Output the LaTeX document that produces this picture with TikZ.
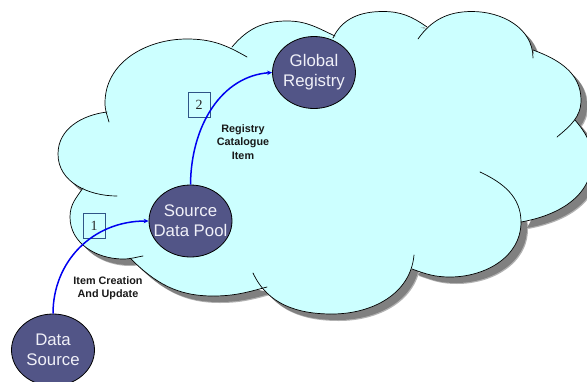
\documentclass[tikz,border=0pt]{standalone}
\usepackage{fontspec}
\setmainfont{Liberation Serif}
\setsansfont{Liberation Sans}
\usetikzlibrary{arrows.meta,shapes.geometric}
\definecolor{cloudfill}{HTML}{CCFFFF}
\definecolor{poolfill}{HTML}{525587}
\definecolor{poolink}{HTML}{F0F0F8}
\definecolor{flowblue}{HTML}{0000F0}
\definecolor{boxline}{HTML}{2F5587}
\tikzset{
  pool/.style={ellipse,draw=black,line width=.8pt,fill=poolfill,text=poolink,
    minimum width=83pt,minimum height=72pt,inner sep=-8pt,align=center,
    font=\sffamily\fontsize{16.8}{20}\selectfont},
  flow/.style={draw=flowblue,line width=1.5pt,-{Stealth[length=5pt,width=4.5pt]}},
  stepbox/.style={rectangle,draw=boxline,line width=.8pt,minimum width=22pt,minimum height=25pt,
    inner sep=0pt,font=\rmfamily\fontsize{14}{14}\selectfont,text=black!85},
  flowlabel/.style={align=center,inner sep=0pt,font=\sffamily\bfseries\fontsize{10.8}{13.3}\selectfont,text=black!90},
  outline/.style={draw=black,line width=.7pt,line cap=round}
}
\newcommand\alllobes[2]{%
  \path[#1] (109,122) to[out=105,in=270] (105,103) to[out=90,in=180] (187,39) to[out=0,in=150] (247,57) #2;
  \path[#1] (232,47) to[out=50,in=180] (287,21) to[out=0,in=155] (335,36) #2;
  \path[#1] (333,38) to[out=65,in=180] (383,11.5) to[out=0,in=145] (427,27) #2;
  \path[#1] (418,39) to[out=55,in=180] (472,11.5) to[out=0,in=90] (533,58) #2;
  \path[#1] (533,50) to[out=-20,in=90] (581,100) to[out=270,in=40] (557,137) #2;
  \path[#1] (575,120) to[out=-50,in=90] (592,160) to[out=270,in=10] (521,222) #2;
  \path[#1] (480,172) to[out=-25,in=90] (521,222) to[out=270,in=0] (450,277) to[out=180,in=-20] (412,269) #2;
  \path[#1] (414,255) to[out=-95,in=0] (332,314) to[out=180,in=-65] (253,273) #2;
  \path[#1] (267,287) to[out=195,in=0] (213,296) to[out=180,in=-45] (130,258) #2;
  \path[#1] (143,256) to[out=190,in=0] (123,259) to[out=180,in=270] (70,217) to[out=90,in=235] (83,188) #2;
  \path[#1] (117,196) to[out=180,in=270] (58,154) to[out=90,in=187] (107,112) #2;
}
\newcommand\coreshape[1]{%
  \path[#1] (107,115)--(170,60)--(232,47)--(285,35)--(335,37)--(380,25)--(426,28.5)--(470,25)--(532,52)--(565,90)--(575,120)--(575,170)--(521,222)--(470,255)--(412,269)--(330,300)--(267,288)--(200,285)--(130,258)--(90,225)--(83,188)--(75,150)--cycle;
}
\begin{document}
\begin{tikzpicture}[x=1pt,y=-1pt]
\useasboundingbox (0,0) rectangle (587,381);
\clip (0,0) rectangle (587,381);
\begin{scope}[shift={(7,7)}]
  \alllobes{fill=black!30}{-- cycle}
\end{scope}
\begin{scope}[shift={(6,6)}]
  \alllobes{fill=black!50}{-- cycle}
\end{scope}
\alllobes{fill=cloudfill}{-- cycle}
\coreshape{fill=cloudfill}
\alllobes{outline}{}
\node[pool] (registry) at (314,72.5) {Global\\Registry};
\node[pool] (pool) at (190.5,221) {Source\\Data Pool};
\node[pool] (source) at (53,350) {Data\\Source};
\node[stepbox] (one) at (94,226) {1};
\node[stepbox] (two) at (199,104.5) {2};
\node[flowlabel] (lab2) at (243,142) {Registry\\Catalogue\\Item};
\node[flowlabel] (lab1) at (108,288) {Item Creation\\And Update};
\draw[flow] (source.north) .. controls (53,262) and (92,221) .. (pool.west);
\draw[flow] (pool.north) .. controls (191,125) and (222,76) .. (registry.west);
\end{tikzpicture}
\end{document}
